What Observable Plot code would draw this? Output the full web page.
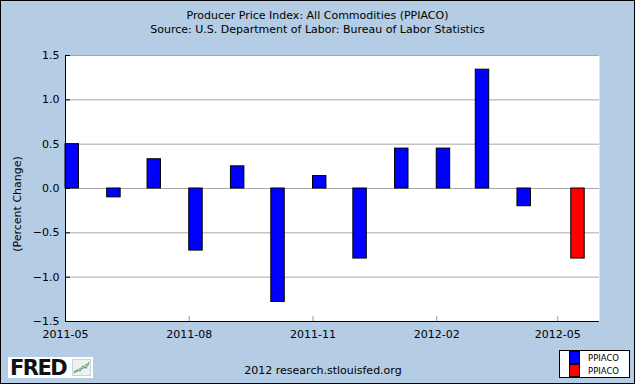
<!DOCTYPE html>
<html>
<head>
<meta charset="utf-8">
<script src="https://cdn.jsdelivr.net/npm/d3@7"></script>
<script src="https://cdn.jsdelivr.net/npm/@observablehq/plot@0.6"></script>
<style>
  html, body { margin: 0; padding: 0; background: #fff; }
  #wrap { position: relative; width: 635px; height: 384px; background: #b4cce4; overflow: hidden;
          font-family: "DejaVu Sans", Verdana, sans-serif; color: #000; }
  #wrap svg.plot { position: absolute; left: 0; top: 0; }
  #border { position: absolute; left: 0; top: 0; width: 633px; height: 382px; border: 1px solid #000; pointer-events: none; }
  #title { position: absolute; left: 0; top: 9px; width: 635px; text-align: center; font-size: 11px; line-height: 13.5px; }
  #ylabel { position: absolute; left: 17px; top: 204px; font-size: 11px; white-space: nowrap;
            transform: translate(-50%, -50%) rotate(-90deg); }
  #footer { position: absolute; left: 0; width: 646px; top: 364px; text-align: center; font-size: 11px; line-height: 13px; }
  #logo { position: absolute; left: 8px; top: 357px; width: 85px; height: 21px; background: #fff; }
  #logo .txt { position: absolute; left: 2px; top: -1px; font-family: "DejaVu Sans", sans-serif; font-weight: 900; font-size: 21px; letter-spacing: -1.5px; color: #111; }
  #logo svg { position: absolute; left: 64px; top: 2px; }
  #legend { position: absolute; left: 559px; top: 350px; width: 69px; height: 26px; background: #fff; border: 1px solid #000; }
  .sw { position: absolute; left: 9px; width: 9px; height: 11px; border: 1px solid #000; }
  .lt { position: absolute; left: 28px; font-size: 8.5px; line-height: 10px; }
</style>
</head>
<body>
<div id="wrap"></div>
<script>
// ---- data ----
const months = ["2011-05","2011-06","2011-07","2011-08","2011-09","2011-10","2011-11",
                "2011-12","2012-01","2012-02","2012-03","2012-04","2012-05"];
const ppiacoBlue = [0.5, -0.1, 0.33, -0.7, 0.25, -1.28, 0.14, -0.79, 0.45, 0.45, 1.34, -0.2, null];
const ppiacoRed  = [null, null, null, null, null, null, null, null, null, null, null, null, -0.79];
const seriesNames = ["PPIACO", "PPIACO"];
const seriesColors = ["#0000ff", "#ff0000"];
const yTicks = [-1.5, -1.0, -0.5, 0.0, 0.5, 1.0, 1.5];
const xTickLabels = ["2011-05", "2011-08", "2011-11", "2012-02", "2012-05"];
const xDomainLabels = ["2011-05", "2012-06"];
const titleLines = ["Producer Price Index: All Commodities (PPIACO)",
                    "Source: U.S. Department of Labor: Bureau of Labor Statistics"];
const yLabel = "(Percent Change)";
const footerText = "2012 research.stlouisfed.org";

// ---- build ----
const parse = d3.utcParse("%Y-%m");
const barDays = 10; // bar width in days (grouped bars)
const blueData = months.map((m, i) => ({date: parse(m), value: ppiacoBlue[i]})).filter(d => d.value != null);
const redData = months.map((m, i) => ({date: parse(m), value: ppiacoRed[i]})).filter(d => d.value != null);
const xTicks = xTickLabels.map(parse);
const xDomain = xDomainLabels.map(parse);

const W = 635, H = 384, mL = 65, mR = 36, mT = 55, mB = 63;
const innerW = W - mL - mR, innerH = H - mT - mB;

const chart = Plot.plot({
  width: W, height: H,
  marginLeft: mL, marginRight: mR, marginTop: mT, marginBottom: mB,
  style: {background: "transparent", fontFamily: "DejaVu Sans, Verdana, sans-serif", fontSize: "11px", color: "#000", overflow: "visible"},
  x: {type: "utc", domain: xDomain},
  y: {domain: [yTicks[0], yTicks[yTicks.length - 1]]},
  marks: [
    Plot.frame({fill: "white", stroke: null}),
    Plot.ruleY(yTicks, {stroke: "#a8a8a8", strokeWidth: 1}),
    Plot.ruleX(xTicks, {stroke: "#999", insetTop: innerH - 5}),
    Plot.ruleY(yTicks, {stroke: "#000", insetRight: innerW - 5}),
    Plot.rectY(blueData, {
      x1: d => d.date, x2: d => d3.utcDay.offset(d.date, barDays),
      y1: 0, y2: "value", fill: seriesColors[0], stroke: "#000", strokeWidth: 1
    }),
    Plot.rectY(redData, {
      x1: d => d3.utcDay.offset(d.date, barDays), x2: d => d3.utcDay.offset(d.date, 2 * barDays),
      y1: 0, y2: "value", fill: seriesColors[1], stroke: "#000", strokeWidth: 1
    }),
    Plot.ruleX([xDomain[0]], {stroke: "#000"}),
    Plot.ruleY([yTicks[0]], {stroke: "#000"}),
    Plot.axisX({ticks: xTicks, tickFormat: d3.utcFormat("%Y-%m"), tickSize: 0, tickPadding: 9, label: null, fontSize: 11}),
    Plot.axisY({ticks: yTicks, tickFormat: d3.format(".1f"), tickSize: 0, tickPadding: 6, label: null, fontSize: 11})
  ]
});

const wrap = document.getElementById("wrap");
wrap.appendChild(chart);

const title = document.createElement("div");
title.id = "title";
title.innerHTML = titleLines.join("<br>");
wrap.appendChild(title);

const yl = document.createElement("div");
yl.id = "ylabel";
yl.textContent = yLabel;
wrap.appendChild(yl);

const footer = document.createElement("div");
footer.id = "footer";
footer.textContent = footerText;
wrap.appendChild(footer);

const logo = document.createElement("div");
logo.id = "logo";
logo.innerHTML = '<span class="txt">FRED</span>' +
  '<svg width="19" height="17" viewBox="0 0 19 17"><rect x="0.5" y="0.5" width="18" height="16" fill="#eef2f5" stroke="#c9d3da"/>' +
  '<polyline points="2,14 5,11 8,12 11,7 14,9 17,3" fill="none" stroke="#6fae3c" stroke-width="1.2"/>' +
  '<polyline points="2,12 5,13 8,9 11,10 14,5 17,6" fill="none" stroke="#7a9bc9" stroke-width="1"/></svg>';
wrap.appendChild(logo);

const legend = document.createElement("div");
legend.id = "legend";
seriesNames.forEach((name, i) => {
  const sw = document.createElement("div");
  sw.className = "sw";
  sw.style.top = (i * 13) + "px";
  sw.style.background = seriesColors[i];
  legend.appendChild(sw);
  const lt = document.createElement("div");
  lt.className = "lt";
  lt.style.top = (2 + i * 13) + "px";
  lt.textContent = name;
  legend.appendChild(lt);
});
wrap.appendChild(legend);

const border = document.createElement("div");
border.id = "border";
wrap.appendChild(border);
</script>
</body>
</html>
